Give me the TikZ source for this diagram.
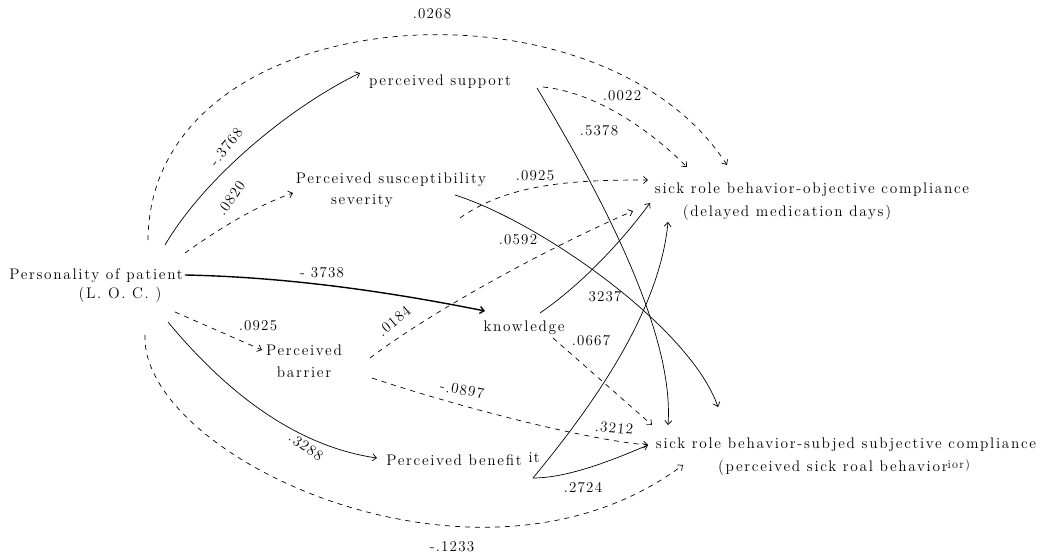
\documentclass[tikz,border=0pt]{standalone}
\usepackage{fontspec}
\setmainfont{lmroman12-regular.otf}
\usetikzlibrary{arrows.meta}
\begin{document}
\begin{tikzpicture}[x=1pt,y=1pt,
  txt/.style={inner sep=0pt, font=\fontsize{15.3}{22}\selectfont\addfontfeatures{LetterSpace=11}},
  lab/.style={inner sep=0pt, font=\fontsize{15}{16}\selectfont\addfontfeatures{LetterSpace=8}},
  conn/.style={line width=0.7pt, -{Straight Barb[length=4pt,width=7pt]}},
  dsh/.style={conn, dash pattern=on 5pt off 5pt},
  thick conn/.style={conn, line width=1.4pt},
]
\useasboundingbox (0,0) rectangle (1042,557);
% nodes
\node[txt] (P) at (96,281) {Personality of patient};
\node[txt] (Pb) at (120,262) {(L. O. C. )};
\node[txt] (sup) at (440,475) {perceived support};
\node[txt] (sus) at (391,377) {Perceived susceptibility};
\node[txt] (sus2) at (362,356) {severity};
\node[txt] (know) at (524,229) {knowledge};
\node[txt, align=center] (bar) at (304,196) {Perceived\\barrier};
\node[txt] (ben) at (454,97) {Perceived benefit};
\node[lab] (it) at (534,99) {it};
\node[txt] (obj) at (812,367) {sick role behavior-objective compliance};
\node[txt] (obj2) at (787,344) {(delayed medication days)};
\node[txt] (sub) at (846,112) {sick role behavior-subjed subjective compliance};
\node[txt] (sub2) at (844,90) {(perceived sick roal behavior\raisebox{3pt}{\fontsize{12}{13}\selectfont ior)}};
% connectors from personality
\draw[dsh] ([shift={(52,36)}]P.center) .. controls +(2,243) and +(-127,198) .. ([shift={(-85,25)}]obj.center);
\draw[conn] ([shift={(69,31)}]P.center) .. controls +(40,68) and +(-70,-34) .. ([shift={(-80,9)}]sup.center);
\draw[dsh] ([shift={(89,23)}]P.center) .. controls +(35,25) and +(-35,-12) .. ([shift={(-98,-13)}]sus.center);
\draw[thick conn] ([shift={(89,1)}]P.center) .. controls +(100,-2) and +(-100,20) .. ([shift={(-39,17)}]know.center);
\draw[dsh] ([shift={(79,-36)}]P.center) -- ([shift={(-42,11)}]bar.center);
\draw[conn] ([shift={(72,-46)}]P.center) .. controls +(62,-75) and +(-77,11) .. ([shift={(-77,2)}]ben.center);
\draw[dsh] ([shift={(49,-59)}]P.center) .. controls +(-5,-122) and +(-203,-152) .. ([shift={(-163,-20)}]sub.center);
% from support
\draw[dsh] ([shift={(103,-5)}]sup.center) .. controls +(50,-5) and +(-40,40) .. ([shift={(-125,23)}]obj.center);
\draw[conn] ([shift={(97,-6)}]sup.center) .. controls +(53,-89) and +(7,98) .. ([shift={(-178,20)}]sub.center);
% from susceptibility
\draw[dsh] ([shift={(69,-38)}]sus.center) .. controls +(50,36) and +(-68,0) .. ([shift={(-164,10)}]obj.center);
\draw[conn] ([shift={(64,-15)}]sus.center) .. controls +(85,-27) and +(-28,80) .. ([shift={(-128,38)}]sub.center);
% from barrier
\draw[dsh] ([shift={(66,3)}]bar.center) .. controls +(65,49) and +(-83,-36) .. ([shift={(-179,-21)}]obj.center);
\draw[dsh] ([shift={(68,-17)}]bar.center) .. controls +(90,-30) and +(-60,5) .. ([shift={(-198,0)}]sub.center);
% from knowledge
\draw[conn] ([shift={(16,15)}]know.center) .. controls +(45,31) and +(-25,-34) .. ([shift={(-162,-13)}]obj.center);
\draw[dsh] ([shift={(29,-10)}]know.center) -- ([shift={(-194,20)}]sub.center);
% from benefit
\draw[conn] ([shift={(79,-18)}]ben.center) .. controls +(67,81) and +(-8,-85) .. ([shift={(-144,-32)}]obj.center);
\draw[conn] ([shift={(79,-18)}]ben.center) .. controls +(35,0) and +(-35,-15) .. ([shift={(-198,0)}]sub.center);
% labels
\node[lab] (l1) at (432,543) {.0268};
\node[lab, rotate=52] (l2) at (226,410) {-.3768};
\node[lab, rotate=55] (l3) at (231,359) {.0820};
\node[lab] (l4) at (322,284) {- 3738};
\node[lab] (l5) at (258,231) {.0925};
\node[lab, rotate=-35] (l6) at (306,110) {.3288};
\node[lab] (l7) at (452,10) {-.1233};
\node[lab] (l8) at (622,461) {.0022};
\node[lab] (l9) at (599,426) {.5378};
\node[lab] (l10) at (535,381) {.0925};
\node[lab, rotate=40] (l11) at (394,236) {.0184};
\node[lab] (l12) at (518,317) {.0592};
\node[lab] (l13) at (605,260) {3237};
\node[lab] (l14) at (591,216) {.0667};
\node[lab, rotate=-10] (l15) at (462,167) {-.0897};
\node[lab, rotate=-5] (l16) at (614,129) {.3212};
\node[lab] (l17) at (583,69) {.2724};
\end{tikzpicture}
\end{document}
